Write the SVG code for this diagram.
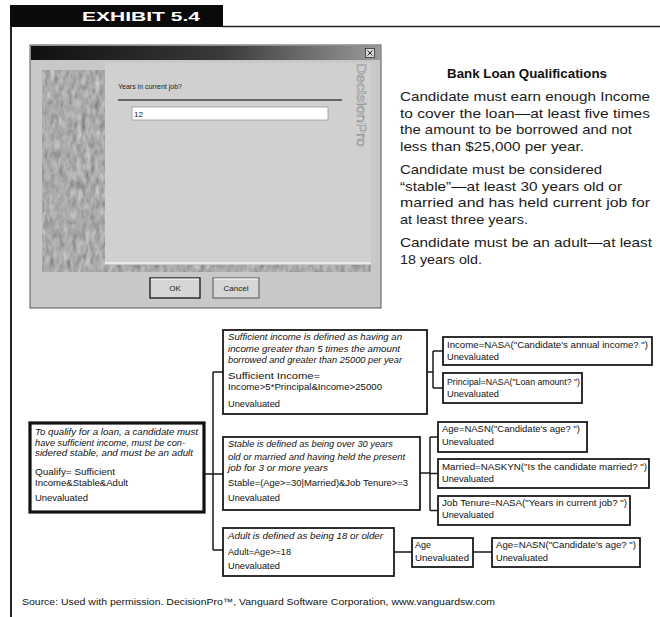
<svg xmlns="http://www.w3.org/2000/svg" width="660" height="617" viewBox="0 0 660 617">
<style>
.t{font-family:"Liberation Sans",Arial,sans-serif;font-size:9px;fill:#111}
.i{font-style:italic}
.box{fill:#fff;stroke:#1a1a1a;stroke-width:1.8}
.rootbox{fill:#fff;stroke:#111;stroke-width:3.2}
.conn{stroke:#1a1a1a;stroke-width:1.5;fill:none}
.body{font-family:"Liberation Sans",Arial,sans-serif;font-size:13.5px;fill:#1a1a1a}
.ui{font-family:"Liberation Sans",Arial,sans-serif;font-size:7px;fill:#222}
</style>
<defs>
<linearGradient id="tb" x1="0" y1="0" x2="1" y2="0">
<stop offset="0" stop-color="#101010"/><stop offset="0.55" stop-color="#3a3a3a"/><stop offset="1" stop-color="#9a9a9a"/>
</linearGradient>
<filter id="grain" x="0" y="0" width="1" height="1">
<feTurbulence type="fractalNoise" baseFrequency="0.22 0.1" numOctaves="3" seed="7"/>
<feColorMatrix type="matrix" values="0.27 0.27 0.27 0 0  0.27 0.27 0.27 0 0  0.27 0.27 0.27 0 0  0 0 0 0 1"/>
</filter>
</defs>
<rect width="660" height="617" fill="#fff"/>

<!-- header -->
<g id="header">
<rect x="10" y="5" width="213" height="22" fill="#0a0a0a"/>
<text x="82" y="20.5" textLength="118" lengthAdjust="spacingAndGlyphs" style="font-family:'Liberation Sans',Arial,sans-serif;font-size:13px;font-weight:bold;fill:#fff">EXHIBIT 5.4</text>
<line x1="222" y1="26.5" x2="660" y2="26.5" stroke="#222" stroke-width="1.6"/>
<line x1="11" y1="26" x2="11" y2="617" stroke="#222" stroke-width="2"/>
</g>

<!-- dialog -->
<g id="dialog">
<rect x="30" y="45" width="351" height="263" fill="#c8c8c8" stroke="#555" stroke-width="1"/>
<rect x="31" y="46" width="349" height="14" fill="url(#tb)"/>
<rect x="365.5" y="48.5" width="9" height="9" fill="#d8d8d8" stroke="#333" stroke-width="0.8"/>
<path d="M367.5 50.5 L372.5 55.5 M372.5 50.5 L367.5 55.5" stroke="#222" stroke-width="1"/>
<rect x="105" y="63" width="266" height="200" fill="#d0d0d0"/>
<line x1="105" y1="263" x2="371" y2="263" stroke="#f4f4f4" stroke-width="1.5"/>
<rect x="42" y="70" width="63" height="200" filter="url(#grain)"/>
<rect x="42" y="265" width="329" height="7" filter="url(#grain)"/>
<text class="ui" x="118" y="89">Years in current job?</text>
<line x1="118" y1="100" x2="342" y2="100" stroke="#444" stroke-width="1.5"/>
<rect x="132" y="107" width="196" height="13" fill="#fff" stroke="#999" stroke-width="0.8"/>
<text class="ui" x="134" y="117" style="font-size:8px">12</text>
<text transform="translate(357,63) rotate(90)" textLength="84" lengthAdjust="spacingAndGlyphs" style="font-family:'Liberation Sans',Arial,sans-serif;font-size:12px;fill:#e6e6e6;stroke:#8a8a8a;stroke-width:0.5">DecisionPro</text>
<rect x="150" y="278" width="50" height="20" fill="#d6d6d6" stroke="#222" stroke-width="1.4"/>
<line x1="151" y1="279" x2="199" y2="279" stroke="#fff" stroke-width="1"/>
<text class="ui" x="175" y="291" text-anchor="middle" style="font-size:8px">OK</text>
<rect x="213" y="278" width="46" height="20" fill="#d6d6d6" stroke="#555" stroke-width="1"/>
<line x1="214" y1="279" x2="258" y2="279" stroke="#fff" stroke-width="1"/>
<text class="ui" x="236" y="291" text-anchor="middle" style="font-size:8px">Cancel</text>
</g>

<!-- qualifications text -->
<g id="qualifications">
<text x="447" y="77.5" textLength="160" lengthAdjust="spacingAndGlyphs" style="font-family:'Liberation Sans',Arial,sans-serif;font-size:12px;font-weight:bold;fill:#111">Bank Loan Qualifications</text>
<text class="body" x="400" y="101" textLength="250" lengthAdjust="spacingAndGlyphs">Candidate must earn enough Income</text>
<text class="body" x="400" y="117.5" textLength="250" lengthAdjust="spacingAndGlyphs">to cover the loan—at least five times</text>
<text class="body" x="400" y="134" textLength="232" lengthAdjust="spacingAndGlyphs">the amount to be borrowed and not</text>
<text class="body" x="400" y="150.5" textLength="184" lengthAdjust="spacingAndGlyphs">less than $25,000 per year.</text>
<text class="body" x="400" y="174" textLength="202" lengthAdjust="spacingAndGlyphs">Candidate must be considered</text>
<text class="body" x="400" y="190.5" textLength="222" lengthAdjust="spacingAndGlyphs">“stable”—at least 30 years old or</text>
<text class="body" x="400" y="207" textLength="250" lengthAdjust="spacingAndGlyphs">married and has held current job for</text>
<text class="body" x="400" y="223.5" textLength="128" lengthAdjust="spacingAndGlyphs">at least three years.</text>
<text class="body" x="400" y="247" textLength="252" lengthAdjust="spacingAndGlyphs">Candidate must be an adult—at least</text>
<text class="body" x="400" y="263.5" textLength="82" lengthAdjust="spacingAndGlyphs">18 years old.</text>
</g>

<!-- connectors -->
<g id="connectors">
<path class="conn" d="M204 474 H213 M213 372 V550 M213 372 H223 M213 474 H223 M213 550 H223"/>
<path class="conn" d="M427 372 H433 M433 351 V388 M433 351 H443 M433 388 H443"/>
<path class="conn" d="M420 473 H430 M430 437 V510.5 M430 437 H438 M430 473.5 H438 M430 510.5 H438"/>
<path class="conn" d="M394 552 H412 M473 552 H492"/>
</g>

<g id="qualify">
<rect class="rootbox" x="30" y="423" width="174" height="89"/>
<text class="t i" x="35" y="435" textLength="163" lengthAdjust="spacingAndGlyphs">To qualify for a loan, a candidate must</text>
<text class="t i" x="35" y="445.5" textLength="150" lengthAdjust="spacingAndGlyphs">have sufficient income, must be con-</text>
<text class="t i" x="35" y="456" textLength="158" lengthAdjust="spacingAndGlyphs">sidered stable, and must be an adult</text>
<text class="t" x="35" y="475" textLength="80" lengthAdjust="spacingAndGlyphs">Qualify= Sufficient</text>
<text class="t" x="35" y="485.5" textLength="93" lengthAdjust="spacingAndGlyphs">Income&amp;Stable&amp;Adult</text>
<text class="t" x="35" y="501" textLength="53" lengthAdjust="spacingAndGlyphs">Unevaluated</text>
</g>

<g id="sufficient-income">
<rect class="box" x="223" y="330" width="204" height="84"/>
<text class="t i" x="228" y="340" textLength="174" lengthAdjust="spacingAndGlyphs">Sufficient income is defined as having an</text>
<text class="t i" x="228" y="351.5" textLength="172" lengthAdjust="spacingAndGlyphs">income greater than 5 times the amount</text>
<text class="t i" x="228" y="362.5" textLength="174" lengthAdjust="spacingAndGlyphs">borrowed and greater than 25000 per year</text>
<text class="t" x="228" y="379" textLength="92" lengthAdjust="spacingAndGlyphs">Sufficient Income=</text>
<text class="t" x="228" y="390" textLength="154" lengthAdjust="spacingAndGlyphs">Income&gt;5*Principal&amp;Income&gt;25000</text>
<text class="t" x="228" y="407" textLength="52" lengthAdjust="spacingAndGlyphs">Unevaluated</text>
</g>

<g id="stable">
<rect class="box" x="223" y="437" width="197" height="73"/>
<text class="t i" x="228" y="447" textLength="165" lengthAdjust="spacingAndGlyphs">Stable is defined as being over 30 years</text>
<text class="t i" x="228" y="460" textLength="177" lengthAdjust="spacingAndGlyphs">old or married and having held the present</text>
<text class="t i" x="228" y="471" textLength="100" lengthAdjust="spacingAndGlyphs">job for 3 or more years</text>
<text class="t" x="228" y="486" textLength="180" lengthAdjust="spacingAndGlyphs">Stable=(Age&gt;=30|Married)&amp;Job Tenure&gt;=3</text>
<text class="t" x="228" y="501" textLength="52" lengthAdjust="spacingAndGlyphs">Unevaluated</text>
</g>

<g id="adult">
<rect class="box" x="223" y="528" width="171" height="48"/>
<text class="t i" x="228" y="539" textLength="155" lengthAdjust="spacingAndGlyphs">Adult is defined as being 18 or older</text>
<text class="t" x="228" y="555" textLength="63" lengthAdjust="spacingAndGlyphs">Adult=Age&gt;=18</text>
<text class="t" x="228" y="569" textLength="52" lengthAdjust="spacingAndGlyphs">Unevaluated</text>
</g>

<g id="income">
<rect class="box" x="443" y="337" width="209" height="28"/>
<text class="t" x="447" y="348" textLength="201" lengthAdjust="spacingAndGlyphs">Income=NASA("Candidate's annual income? ")</text>
<text class="t" x="447" y="360" textLength="52" lengthAdjust="spacingAndGlyphs">Unevaluated</text>
</g>

<g id="principal">
<rect class="box" x="443" y="373" width="139" height="30"/>
<text class="t" x="447" y="385" textLength="133" lengthAdjust="spacingAndGlyphs">Principal=NASA("Loan amount? ")</text>
<text class="t" x="447" y="397" textLength="52" lengthAdjust="spacingAndGlyphs">Unevaluated</text>
</g>

<g id="age-ask">
<rect class="box" x="438" y="422" width="149" height="30"/>
<text class="t" x="442" y="432" textLength="138" lengthAdjust="spacingAndGlyphs">Age=NASN("Candidate's age? ")</text>
<text class="t" x="442" y="445" textLength="52" lengthAdjust="spacingAndGlyphs">Unevaluated</text>
</g>

<g id="married">
<rect class="box" x="438" y="459" width="211" height="29"/>
<text class="t" x="442" y="470" textLength="205" lengthAdjust="spacingAndGlyphs">Married=NASKYN("Is the candidate married? ")</text>
<text class="t" x="442" y="482" textLength="52" lengthAdjust="spacingAndGlyphs">Unevaluated</text>
</g>

<g id="job-tenure">
<rect class="box" x="438" y="496" width="192" height="29"/>
<text class="t" x="442" y="506" textLength="185" lengthAdjust="spacingAndGlyphs">Job Tenure=NASA("Years in current job? ")</text>
<text class="t" x="442" y="518" textLength="52" lengthAdjust="spacingAndGlyphs">Unevaluated</text>
</g>

<g id="age">
<rect class="box" x="412" y="538" width="61" height="29"/>
<text class="t" x="415" y="548">Age</text>
<text class="t" x="415" y="561" textLength="54" lengthAdjust="spacingAndGlyphs">Unevaluated</text>
</g>

<g id="age-ask-2">
<rect class="box" x="492" y="538" width="148" height="29"/>
<text class="t" x="496" y="548" textLength="140" lengthAdjust="spacingAndGlyphs">Age=NASN("Candidate's age? ")</text>
<text class="t" x="496" y="561" textLength="52" lengthAdjust="spacingAndGlyphs">Unevaluated</text>
</g>

<g id="source">
<text class="t" x="22" y="605" textLength="473" lengthAdjust="spacingAndGlyphs">Source: Used with permission. DecisionPro™, Vanguard Software Corporation, www.vanguardsw.com</text>
</g>
</svg>
